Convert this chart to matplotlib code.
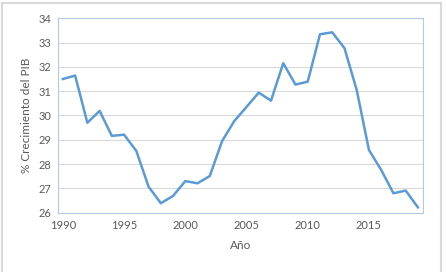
import matplotlib.pyplot as plt
from matplotlib.lines import Line2D

years = list(range(1990, 2020))
growth = [31.50, 31.64, 29.70, 30.19, 29.16, 29.21, 28.54, 27.07, 26.39, 26.69,
          27.30, 27.21, 27.51, 28.94, 29.77, 30.35, 30.94, 30.61, 32.15, 31.27,
          31.39, 33.34, 33.42, 32.77, 31.05, 28.58, 27.76, 26.80, 26.91, 26.22]
xticks = [1990, 1995, 2000, 2005, 2010, 2015]
yticks = list(range(26, 35))

txt = '#595959'
plt.rcParams['font.family'] = ['Lato', 'DejaVu Sans']

fig = plt.figure(figsize=(4.46, 2.72), dpi=100)
ax = fig.add_axes([0.130, 0.218, 0.818, 0.715])

ax.plot(years, growth, color='#5B9BD5', linewidth=1.8, solid_joinstyle='round')

ax.set_xlim(1989.6, 2019.4)
ax.set_ylim(26, 34)
ax.set_xticks(xticks)
ax.set_yticks(yticks)
ax.grid(axis='y', color='#D9D9D9', linewidth=0.8)
ax.set_axisbelow(True)
ax.tick_params(length=0, labelsize=8, colors=txt, pad=5)
for s in ax.spines.values():
    s.set_color('#B4C7E7')
    s.set_linewidth(0.8)

ax.set_xlabel('Año', fontsize=8.5, color=txt, labelpad=7)
ax.set_ylabel('% Crecimiento del PIB', fontsize=8.5, color=txt, labelpad=4)

# outer chart frame (bottom edge is cut off)
for xs, ys in [([2/446, 2/446], [0, 1 - 3/272]),
               ([2/446, 441/446], [1 - 3/272, 1 - 3/272]),
               ([441/446, 441/446], [1 - 3/272, 0])]:
    fig.add_artist(Line2D(xs, ys, color='#D9D9D9', linewidth=1.5))

fig.savefig('out.png', dpi=100)
